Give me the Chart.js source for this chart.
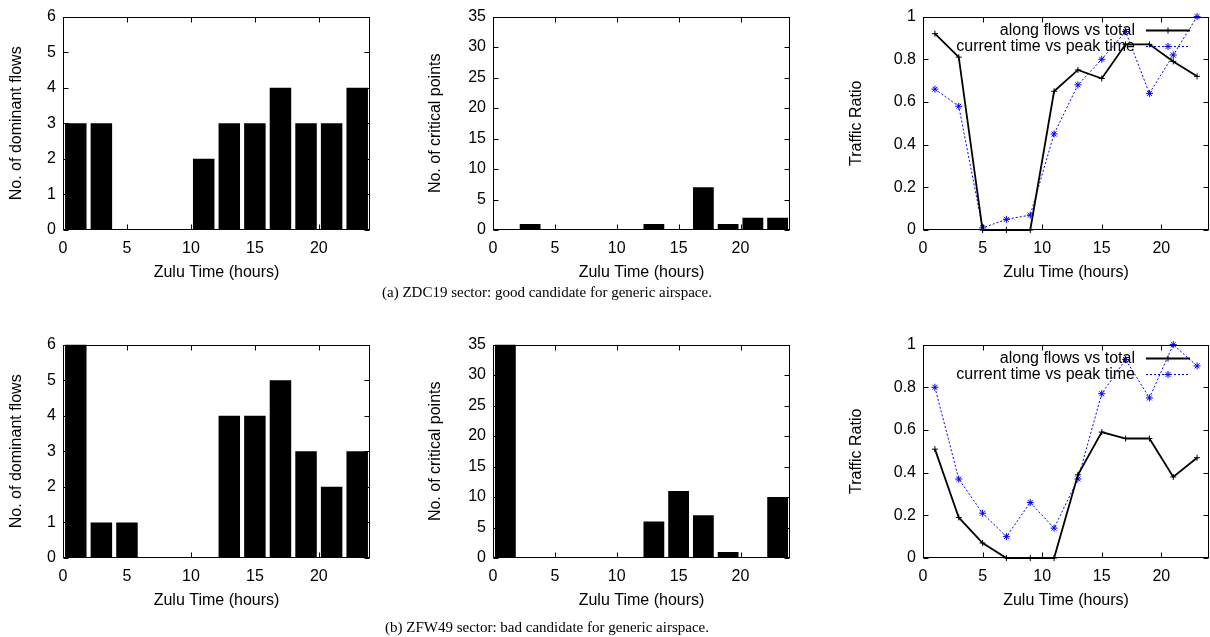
<!DOCTYPE html>
<html><head><meta charset="utf-8">
<script src="https://cdn.jsdelivr.net/npm/chart.js@4/dist/chart.umd.min.js"></script>
<style>
html,body{margin:0;padding:0;background:#fff;width:1210px;height:637px;overflow:hidden;position:relative}
canvas{position:absolute}
.cap{position:absolute;left:0;width:1094px;height:20px;line-height:20px;text-align:center;font-family:'Liberation Serif','DejaVu Serif',serif;font-size:15px;color:#000;white-space:nowrap}
</style></head><body>
<canvas id="c1" width="380" height="290" style="left:0px;top:0px"></canvas>
<canvas id="c2" width="380" height="290" style="left:420px;top:0px"></canvas>
<canvas id="c3" width="370" height="290" style="left:840px;top:0px"></canvas>
<canvas id="c4" width="380" height="290" style="left:0px;top:328px"></canvas>
<canvas id="c5" width="380" height="290" style="left:420px;top:328px"></canvas>
<canvas id="c6" width="370" height="290" style="left:840px;top:328px"></canvas>
<div class="cap" id="capA" style="top:282px"></div>
<div class="cap" id="capB" style="top:617px"></div>
<script>
// ---- data ----
const hours = [1, 3, 5, 7, 9, 11, 13, 15, 17, 19, 21, 23];
const xTickValues = [0, 5, 10, 15, 20];
const flowTicks = [0, 1, 2, 3, 4, 5, 6];
const critTicks = [0, 5, 10, 15, 20, 25, 30, 35];
const ratioTicks = [0, 0.2, 0.4, 0.6, 0.8, 1];

const flowsZDC19 = [3, 3, 0, 0, 0, 2, 3, 3, 4, 3, 3, 4];
const critZDC19 = [0, 1, 0, 0, 0, 0, 1, 0, 7, 1, 2, 2];
const alongZDC19 = [0.92, 0.81, 0, 0, 0, 0.65, 0.75, 0.71, 0.87, 0.87, 0.79, 0.72];
const currentZDC19 = [0.66, 0.58, 0.01, 0.05, 0.07, 0.45, 0.68, 0.80, 0.93, 0.64, 0.82, 1.0];

const flowsZFW49 = [6, 1, 1, 0, 0, 0, 4, 4, 5, 3, 2, 3];
const critZFW49 = [35, 0, 0, 0, 0, 0, 6, 11, 7, 1, 0, 10];
const alongZFW49 = [0.51, 0.19, 0.07, 0, 0, 0, 0.39, 0.59, 0.56, 0.56, 0.38, 0.47];
const currentZFW49 = [0.80, 0.37, 0.21, 0.10, 0.26, 0.14, 0.37, 0.77, 0.93, 0.75, 1.0, 0.90];

const xTitle = 'Zulu Time (hours)';
const yTitles = ['No. of dominant flows', 'No. of critical points', 'Traffic Ratio'];
const seriesNames = ['along flows vs total', 'current time vs peak time'];
const captions = ['(a)  ZDC19 sector: good candidate for generic airspace.',
                  '(b)  ZFW49 sector: bad candidate for generic airspace.'];

// ---- rendering ----
const FONT = "'Liberation Sans', Arial, Helvetica, sans-serif";
Chart.defaults.font.family = FONT;
Chart.defaults.font.size = 16;
Chart.defaults.color = '#000';

function drawMarker(ctx, style, x, y, r) {
  ctx.beginPath();
  ctx.moveTo(x - r, y); ctx.lineTo(x + r, y);
  ctx.moveTo(x, y - r); ctx.lineTo(x, y + r);
  if (style === 'star') {
    const d = r * 0.7071;
    ctx.moveTo(x - d, y - d); ctx.lineTo(x + d, y + d);
    ctx.moveTo(x - d, y + d); ctx.lineTo(x + d, y - d);
  }
  ctx.stroke();
}

const framePlugin = {
  id: 'frame',
  afterDatasetsDraw(chart) {
    const {ctx, chartArea: a, scales: {x, y}} = chart;
    const L = Math.round(a.left) + 0.5, R = Math.round(a.right) - 0.5;
    const T = Math.round(a.top) + 0.5, B = Math.round(a.bottom) - 0.5;
    ctx.save();
    ctx.strokeStyle = '#000'; ctx.lineWidth = 1;
    ctx.strokeRect(L, T, R - L, B - T);
    ctx.beginPath();
    x.ticks.forEach(t => {
      const px = Math.round(x.getPixelForValue(t.value)) + 0.5;
      ctx.moveTo(px, B); ctx.lineTo(px, B - 5);
      ctx.moveTo(px, T); ctx.lineTo(px, T + 5);
    });
    y.ticks.forEach(t => {
      const py = Math.round(y.getPixelForValue(t.value)) + 0.5;
      ctx.moveTo(L, py); ctx.lineTo(L + 5, py);
      ctx.moveTo(R, py); ctx.lineTo(R - 5, py);
    });
    ctx.stroke();
    ctx.restore();
  }
};

const keyPlugin = {
  id: 'key',
  afterDraw(chart, args, opts) {
    if (!opts || !opts.display) return;
    const {ctx, chartArea: a} = chart;
    chart.data.datasets.forEach((ds, i) => {
      const yy = Math.round(a.top + 13 + i * 16.5) + 0.5;
      ctx.save();
      ctx.font = '16px ' + FONT;
      ctx.fillStyle = '#000'; ctx.textAlign = 'right'; ctx.textBaseline = 'middle';
      ctx.fillText(ds.label, a.right - 74, yy);
      ctx.strokeStyle = ds.borderColor; ctx.lineWidth = ds.borderWidth;
      ctx.setLineDash(ds.borderDash || []);
      ctx.beginPath(); ctx.moveTo(a.right - 63, yy); ctx.lineTo(a.right - 19, yy); ctx.stroke();
      ctx.setLineDash([]);
      ctx.lineWidth = 1;
      drawMarker(ctx, ds.pointStyle, a.right - 41, yy, ds.pointRadius);
      ctx.restore();
    });
  }
};

function toXY(vals) { return hours.map((h, i) => ({x: h, y: vals[i]})); }
function fmt(v) { return String(+Number(v).toFixed(2)); }

function makeChart(id, type, datasets, yTicks, yTitle, geom, withKey) {
  return new Chart(document.getElementById(id), {
    type: type,
    data: {datasets: datasets},
    options: {
      responsive: false, animation: false, events: [],
      layout: {autoPadding: false, padding: {top: 15, right: geom.padRight, left: 0, bottom: 0}},
      plugins: {legend: {display: false}, tooltip: {enabled: false}, key: {display: withKey}},
      scales: {
        x: {
          type: 'linear', min: 0, max: 24, offset: false,
          grid: {display: false, drawTicks: false, offset: false}, border: {display: false},
          afterBuildTicks: s => { s.ticks = xTickValues.map(v => ({value: v})); },
          afterFit: s => { s.height = 60; },
          ticks: {padding: 9, maxRotation: 0, autoSkip: false, callback: fmt},
          title: {display: true, text: xTitle, padding: {top: 0, bottom: 8}}
        },
        y: {
          type: 'linear', min: yTicks[0], max: yTicks[yTicks.length - 1],
          grid: {display: false, drawTicks: false}, border: {display: false},
          afterBuildTicks: s => { s.ticks = yTicks.map(v => ({value: v})); },
          afterFit: s => { s.width = geom.yWidth; },
          ticks: {padding: 7, callback: fmt},
          title: {display: true, text: yTitle, padding: {top: geom.titlePad, bottom: 0}}
        }
      }
    },
    plugins: [framePlugin, keyPlugin]
  });
}

function barSet(vals) {
  return [{data: toXY(vals), backgroundColor: '#000', borderWidth: 0,
           barPercentage: 0.84, categoryPercentage: 1}];
}
function lineSets(along, current) {
  return [
    {label: seriesNames[0], data: toXY(along), borderColor: '#000', borderWidth: 1.8,
     pointStyle: 'cross', pointRadius: 3, pointBorderWidth: 1, pointBorderColor: '#000',
     pointBackgroundColor: '#000', clip: false, tension: 0},
    {label: seriesNames[1], data: toXY(current), borderColor: '#0000ff', borderWidth: 1,
     borderDash: [2, 2], pointStyle: 'star', pointRadius: 3.5, pointBorderWidth: 1,
     pointBorderColor: '#0000ff', pointBackgroundColor: '#0000ff', clip: false, tension: 0}
  ];
}

const g1 = {yWidth: 63, padRight: 10, titlePad: 7};
const g2 = {yWidth: 73, padRight: 10, titlePad: 6};
const g3 = {yWidth: 83, padRight: 1, titlePad: 7};

makeChart('c1', 'bar', barSet(flowsZDC19), flowTicks, yTitles[0], g1, false);
makeChart('c2', 'bar', barSet(critZDC19), critTicks, yTitles[1], g2, false);
makeChart('c3', 'line', lineSets(alongZDC19, currentZDC19), ratioTicks, yTitles[2], g3, true);
makeChart('c4', 'bar', barSet(flowsZFW49), flowTicks, yTitles[0], g1, false);
makeChart('c5', 'bar', barSet(critZFW49), critTicks, yTitles[1], g2, false);
makeChart('c6', 'line', lineSets(alongZFW49, currentZFW49), ratioTicks, yTitles[2], g3, true);

document.getElementById('capA').textContent = captions[0];
document.getElementById('capB').textContent = captions[1];
</script>
</body></html>
